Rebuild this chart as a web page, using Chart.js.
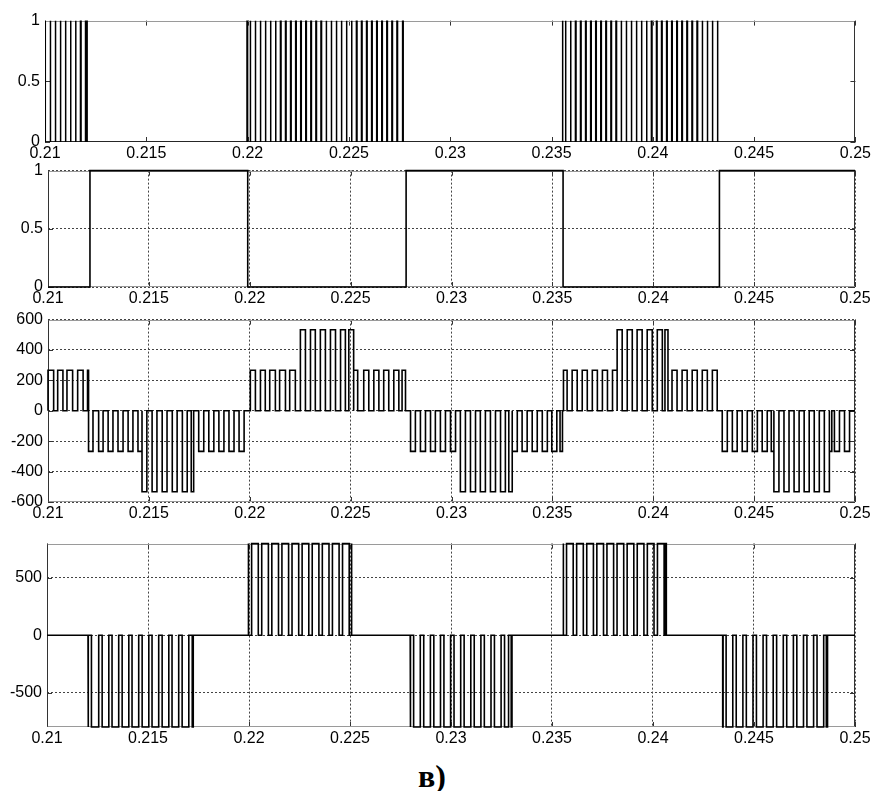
<!DOCTYPE html>
<html><head><meta charset="utf-8">
<script src="https://cdn.jsdelivr.net/npm/chart.js@4.4.1/dist/chart.umd.min.js"></script>
<style>
html,body{margin:0;padding:0;background:#fff;}
body{width:873px;height:791px;position:relative;overflow:hidden;}
canvas{position:absolute;left:0;}
#lbl{position:absolute;left:418px;top:758px;line-height:32px;font:bold 32px "Liberation Serif","DejaVu Serif",serif;color:#000;}
</style></head><body>
<canvas id="c1" width="873" height="166" style="top:6px"></canvas>
<canvas id="c2" width="873" height="161" style="top:156px"></canvas>
<canvas id="c3" width="873" height="227" style="top:305px"></canvas>
<canvas id="c4" width="873" height="228" style="top:529px"></canvas>
<div id="lbl">в)</div>
<script>
// ---------- axis ticks ----------
const xTickVals = [0.21,0.215,0.22,0.225,0.23,0.235,0.24,0.245,0.25];
const xTickLabels = ['0.21','0.215','0.22','0.225','0.23','0.235','0.24','0.245','0.25'];
const gateTickVals = [0,0.5,1];
const gateTickLabels = ['0','0.5','1'];
const phaseTickVals = [-600,-400,-200,0,200,400,600];
const phaseTickLabels = ['-600','-400','-200','0','200','400','600'];
const outTickVals = [-500,0,500];
const outTickLabels = ['-500','0','500'];

// ---------- panel 1: gate spikes (instants where the gate signal goes to 1) ----------
const gateSpike = [0.21000,0.21025,0.21050,0.21075,0.21100,0.21125,0.21150,0.21175,0.21200,0.21205,
  0.21997,0.22012,0.22037,0.22062,0.22087,0.22112,0.22137,0.22162,0.22187,0.22212,0.22237,0.22262,0.22287,0.22312,0.22337,0.22362,
  0.22387,0.22412,0.22437,0.22462,0.22487,0.22512,0.22537,0.22562,0.22587,0.22612,0.22637,0.22662,0.22687,0.22712,0.22737,0.22765,
  0.23553,0.23568,0.23593,0.23618,0.23643,0.23668,0.23693,0.23718,0.23743,0.23768,0.23793,0.23818,0.23843,0.23868,0.23893,0.23918,
  0.23943,0.23968,0.23993,0.24018,0.24043,0.24068,0.24093,0.24118,0.24143,0.24168,0.24193,0.24218,0.24243,0.24268,0.24293,0.24318];
const gateSpikeWidth = [0.00003];

// ---------- panel 2: square wave ----------
const stateT = [0.21000,0.21208,0.21990,0.22775,0.23553,0.24328];
const stateV = [0,1,0,1,0,1];

// ---------- panel 3: five-level voltage pulses ----------
const phStart = [0.21000,0.21048,0.21094,0.21147,0.21196,
  0.21201,0.21251,0.21298,0.21347,0.21397,0.21446,
  0.21466,0.21516,0.21566,0.21616,0.21666,0.21710,
  0.21747,0.21797,0.21847,0.21897,0.21947,
  0.22003,0.22053,0.22099,0.22148,0.22198,
  0.22251,0.22301,0.22350,0.22400,0.22450,0.22491,
  0.22515,0.22565,0.22615,0.22664,0.22714,0.22755,
  0.22797,0.22846,0.22896,0.22945,0.22995,
  0.23044,0.23094,0.23143,0.23193,0.23243,0.23284,
  0.23301,0.23350,0.23400,0.23450,0.23497,0.23538,
  0.23555,0.23598,0.23648,0.23698,0.23748,0.23798,
  0.23821,0.23871,0.23920,0.23970,0.24020,0.24058,
  0.24093,0.24143,0.24193,0.24243,0.24293,
  0.24342,0.24392,0.24441,0.24491,0.24540,0.24585,
  0.24598,0.24648,0.24698,0.24748,0.24798,0.24848,
  0.24873,0.24898,0.24948];
const phEnd = [0.21028,0.21074,0.21122,0.21174,0.21201,
  0.21223,0.21273,0.21322,0.21372,0.21421,0.21466,
  0.21490,0.21540,0.21590,0.21640,0.21690,0.21722,
  0.21772,0.21822,0.21872,0.21922,0.21972,
  0.22028,0.22077,0.22127,0.22177,0.22226,
  0.22276,0.22325,0.22375,0.22425,0.22474,0.22515,
  0.22535,0.22590,0.22640,0.22689,0.22739,0.22772,
  0.22821,0.22871,0.22920,0.22970,0.23020,
  0.23069,0.23119,0.23168,0.23218,0.23267,0.23301,
  0.23326,0.23375,0.23425,0.23475,0.23522,0.23550,
  0.23573,0.23623,0.23673,0.23723,0.23773,0.23821,
  0.23846,0.23896,0.23945,0.23995,0.24045,0.24073,
  0.24118,0.24168,0.24218,0.24268,0.24317,
  0.24367,0.24416,0.24466,0.24516,0.24565,0.24598,
  0.24623,0.24673,0.24723,0.24773,0.24823,0.24873,
  0.24885,0.24923,0.24973];
const phLevel = [267,267,267,267,267,
  -267,-267,-267,-267,-267,-267,
  -533,-533,-533,-533,-533,-533,
  -267,-267,-267,-267,-267,
  267,267,267,267,267,
  533,533,533,533,533,533,
  267,267,267,267,267,267,
  -267,-267,-267,-267,-267,
  -533,-533,-533,-533,-533,-533,
  -267,-267,-267,-267,-267,-267,
  267,267,267,267,267,267,
  533,533,533,533,533,533,
  267,267,267,267,267,
  -267,-267,-267,-267,-267,-267,
  -533,-533,-533,-533,-533,-533,
  -267,-267,-267];

// ---------- panel 4: output voltage pulses ----------
const outStart = [0.21203,0.21220,0.21273,0.21322,0.21372,0.21421,0.21471,0.21520,0.21570,0.21619,0.21669,0.21719,
  0.21996,0.22013,0.22063,0.22113,0.22163,0.22213,0.22263,0.22313,0.22363,0.22413,0.22463,0.22506,
  0.22798,0.22815,0.22865,0.22915,0.22965,0.23015,0.23065,0.23115,0.23165,0.23215,0.23265,0.23298,
  0.23555,0.23572,0.23622,0.23672,0.23722,0.23772,0.23822,0.23872,0.23922,0.23972,0.24022,0.24063,
  0.24345,0.24362,0.24412,0.24462,0.24512,0.24562,0.24612,0.24662,0.24712,0.24762,0.24812,0.24858];
const outEnd = [0.21205,0.21256,0.21306,0.21355,0.21405,0.21454,0.21504,0.21553,0.21603,0.21652,0.21702,0.21724,
  0.21998,0.22046,0.22096,0.22146,0.22196,0.22246,0.22296,0.22346,0.22396,0.22446,0.22496,0.22509,
  0.22800,0.22848,0.22898,0.22948,0.22998,0.23048,0.23098,0.23148,0.23198,0.23248,0.23285,0.23302,
  0.23557,0.23605,0.23655,0.23705,0.23755,0.23805,0.23855,0.23905,0.23955,0.24005,0.24055,0.24066,
  0.24347,0.24395,0.24445,0.24495,0.24545,0.24595,0.24645,0.24695,0.24745,0.24795,0.24845,0.24864];
const outLevel = [-800,-800,-800,-800,-800,-800,-800,-800,-800,-800,-800,-800,
  800,800,800,800,800,800,800,800,800,800,800,800,
  -800,-800,-800,-800,-800,-800,-800,-800,-800,-800,-800,-800,
  800,800,800,800,800,800,800,800,800,800,800,800,
  -800,-800,-800,-800,-800,-800,-800,-800,-800,-800,-800,-800];

// ---------- build step tables ----------
function pulseSeries(starts, ends, levels){
  const pts=[{x:0.21,y:0}];
  for(let i=0;i<starts.length;i++){
    const L = Array.isArray(levels)?levels[i]:levels;
    pts.push({x:starts[i],y:0},{x:starts[i],y:L},{x:ends[i],y:L},{x:ends[i],y:0});
  }
  pts.push({x:0.25,y:0});
  return pts;
}
function stepSeries(ts, vs){
  const pts=[{x:ts[0],y:vs[0]}];
  for(let i=1;i<ts.length;i++){ pts.push({x:ts[i],y:vs[i-1]},{x:ts[i],y:vs[i]}); }
  pts.push({x:0.25,y:vs[vs.length-1]});
  return pts;
}
const gateEnd = gateSpike.map(t=>t+gateSpikeWidth[0]);

Chart.defaults.font.family='"Liberation Sans", Arial, sans-serif';
Chart.defaults.font.size=16;
Chart.defaults.color='#000';

const framePlugin = {
  id:'frame',
  beforeDatasetsDraw(chart){
    const {ctx, chartArea:a, scales:{x,y}} = chart;
    ctx.save();
    ctx.lineWidth=1;
    ctx.strokeStyle='#333';
    ctx.beginPath();
    x.ticks.forEach(t=>{
      const px=Math.round(x.getPixelForValue(t.value))+0.5;
      ctx.moveTo(px,a.top); ctx.lineTo(px,a.top+5);
      ctx.moveTo(px,a.bottom); ctx.lineTo(px,a.bottom-5);
    });
    y.ticks.forEach(t=>{
      const py=Math.round(y.getPixelForValue(t.value))+0.5;
      ctx.moveTo(a.left,py); ctx.lineTo(a.left+5,py);
      ctx.moveTo(a.right,py); ctx.lineTo(a.right-5,py);
    });
    ctx.stroke();
    const L=Math.round(a.left)+0.5, R=Math.round(a.right)-0.5, T=Math.round(a.top)+0.5, B=Math.round(a.bottom)-0.5;
    ctx.strokeStyle='#9a9a9a';
    ctx.beginPath(); ctx.moveTo(L,T); ctx.lineTo(R,T); ctx.moveTo(L,B); ctx.lineTo(R,B); ctx.stroke();
    ctx.strokeStyle='#333';
    ctx.beginPath(); ctx.moveTo(L,T); ctx.lineTo(L,B); ctx.moveTo(R,T); ctx.lineTo(R,B); ctx.stroke();
    ctx.restore();
  }
};

function makeChart(id, cfg){
  const gridOn = cfg.grid;
  new Chart(document.getElementById(id), {
    type:'line',
    data:{datasets:[{data:cfg.data, borderColor:'#000', borderWidth:cfg.lw||1.6, pointRadius:0, fill:false, tension:0, clip:cfg.clip===undefined?false:cfg.clip}]},
    options:{
      responsive:false, animation:false, events:[],
      layout:{padding:{top:14, left:0, right:873-cfg.right, bottom:0}},
      plugins:{legend:{display:false}, tooltip:{enabled:false}},
      scales:{
        x:{type:'linear', min:0.21, max:0.25,
          afterFit(s){ s.height=30; },
          afterBuildTicks(s){ s.ticks = xTickVals.map(v=>({value:v})); },
          ticks:{autoSkip:false, maxRotation:0, padding:2, callback:(v,i)=>xTickLabels[i]},
          grid:{display:gridOn, drawTicks:false, color:'#444', lineWidth:1},
          border:{display:false, dash:[2,2]}
        },
        y:{type:'linear', min:cfg.min, max:cfg.max,
          afterFit(s){ s.width=cfg.left; },
          afterBuildTicks(s){ s.ticks = cfg.tickVals.map(v=>({value:v})); },
          ticks:{autoSkip:false, padding:5, callback:(v,i)=>cfg.tickLabels[i]},
          grid:{display:gridOn, drawTicks:false, color:'#444', lineWidth:1},
          border:{display:false, dash:[2,2]}
        }
      }
    },
    plugins:[framePlugin]
  });
}

makeChart('c1',{left:45,right:857,min:0,max:1,tickVals:gateTickVals,tickLabels:gateTickLabels,grid:false,lw:1.5,clip:0,data:pulseSeries(gateSpike,gateEnd,1)});
makeChart('c2',{left:48,right:855,min:0,max:1,tickVals:gateTickVals,tickLabels:gateTickLabels,grid:true,data:stepSeries(stateT,stateV)});
makeChart('c3',{left:48,right:855,min:-600,max:600,tickVals:phaseTickVals,tickLabels:phaseTickLabels,grid:true,data:pulseSeries(phStart,phEnd,phLevel)});
makeChart('c4',{left:47,right:855,min:-800,max:800,tickVals:outTickVals,tickLabels:outTickLabels,grid:true,data:pulseSeries(outStart,outEnd,outLevel)});
</script>
</body></html>
